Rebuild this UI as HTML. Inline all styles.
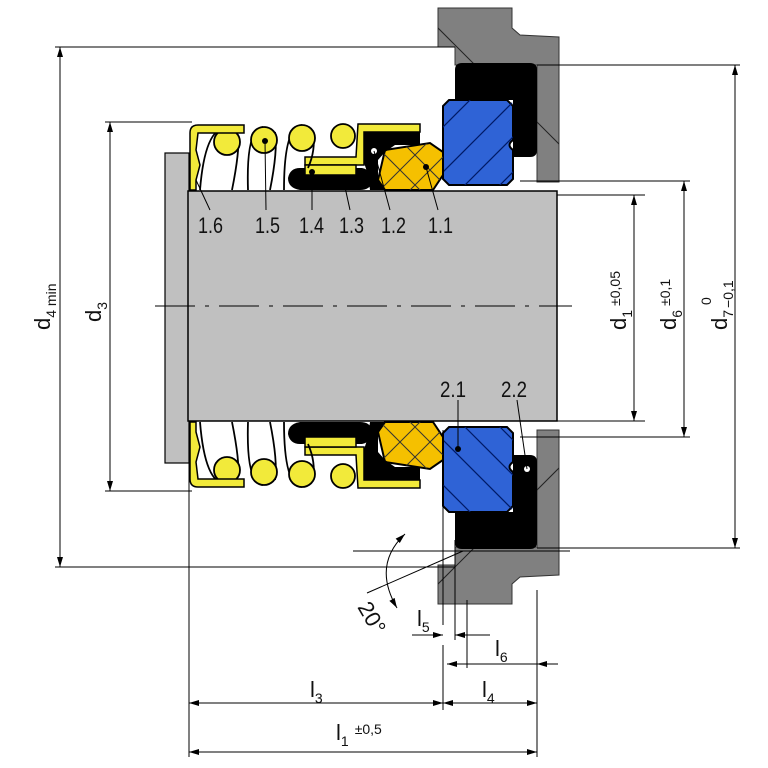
<!DOCTYPE html>
<html><head><meta charset="utf-8"><style>
html,body{margin:0;padding:0;background:#fff}
svg{display:block}
text{font-family:"Liberation Sans Narrow","Liberation Sans",sans-serif;fill:#111}
</style></head><body>
<svg width="768" height="768" viewBox="0 0 768 768" xmlns="http://www.w3.org/2000/svg" xmlns:xlink="http://www.w3.org/1999/xlink">
<defs>
<marker id="a" viewBox="0 0 10 6" refX="10" refY="3" markerWidth="10" markerHeight="6" orient="auto-start-reverse" markerUnits="userSpaceOnUse"><path d="M0,0L10,3L0,6z" fill="#000"/></marker>
<clipPath id="cb"><rect x="443" y="100" width="70" height="85" rx="6"/></clipPath>
<clipPath id="cy"><path d="M385,150 L430,143 L443,152 L443,175 L433,190 L385,190 L378,180 Z"/></clipPath>
<clipPath id="cg"><path d="M438,8 L512,8 L512,28 L520,35 L559,37 L559,182 L537,182 L537,65 L455,65 L455,47 L438,47 Z"/></clipPath>
</defs>
<g id="top">
<path d="M438,8 L512,8 L512,28 L520,35 L559,37 L559,182 L537,182 L537,65 L455,65 L455,47 L438,47 Z" fill="#808080" stroke="#333" stroke-width="1"/>
<g clip-path="url(#cg)" stroke="#222" stroke-width="1"><line x1="430" y1="20" x2="480" y2="70"/><line x1="530" y1="115" x2="570" y2="155"/></g>
<path d="M462,63 L530,63 Q537,63 537,70 L537,150 Q537,157 530,157 L513,157 L513,100 L455,100 L455,70 Q455,63 462,63 Z" fill="#000"/>
<path d="M449,100 L507,100 L513,106 L513,140 Q506,145 513,150 L513,179 L507,185 L449,185 L443,179 L443,106 Z" fill="#2f63d6" stroke="#000" stroke-width="2"/>
<g clip-path="url(#cb)" stroke="#001a66" stroke-width="1.2"><line x1="430" y1="140" x2="480" y2="90"/><line x1="430" y1="185" x2="520" y2="95"/><line x1="455" y1="195" x2="530" y2="120"/><line x1="490" y1="195" x2="540" y2="145"/></g>
<path d="M385,150 L430,143 L443,152 L443,175 L433,190 L385,190 L378,180 Z" fill="#f5c000" stroke="#000" stroke-width="2"/>
<g clip-path="url(#cy)" stroke="#333" stroke-width="1"><line x1="375" y1="145" x2="425" y2="195"/><line x1="400" y1="140" x2="450" y2="190"/><line x1="380" y1="190" x2="430" y2="140"/><line x1="405" y1="195" x2="455" y2="145"/></g>
<path d="M362,131 L420,130 L420,145 L395,145 L385,152 L378,160 L378,180 L385,190 L370,190 L368,175 L360,150 Z" fill="#000"/>
<path d="M300,168 L362,168 Q372,170 372,182 Q370,190 360,190 L300,190 Q288,188 288,178 Q290,168 300,168 Z" fill="#000"/>
<path d="M358,124 L420,124 L420,132 L364,132 L364,165 L305,165 L305,157 L356,157 Z" fill="#f2ea3a" stroke="#000" stroke-width="1.5"/>
<path d="M305,165 L356,165 L356,175 L305,175 Z" fill="#f2ea3a" stroke="#000" stroke-width="1.5"/>
<g fill="none" stroke="#000" stroke-width="1.8">
<path d="M200,190 Q205,128 226,128"/><path d="M232,190 Q240,150 238,135"/>
<path d="M248,190 Q246,128 263,127"/><path d="M270,190 Q278,150 275,132"/>
<path d="M284,190 Q284,126 302,125"/><path d="M308,168 Q316,150 313,132"/>
</g>
<g fill="#f2ea3a" stroke="#000" stroke-width="1.8">
<circle cx="227" cy="142" r="13"/><circle cx="264" cy="140" r="13"/><circle cx="302" cy="138" r="13"/><circle cx="343" cy="136" r="12"/>
</g>
<path d="M190,190 L190,133 Q190,125 198,125 L244,125 L244,133 L198,133 L196,150 L200,165 L196,180 L196,190 Z" fill="#f2ea3a" stroke="#000" stroke-width="1.5"/>
</g>
<use href="#top" xlink:href="#top" transform="matrix(1,0,0,-1,0,612)"/>
<rect x="165" y="153" width="24" height="310" fill="#c0c0c0" stroke="#000" stroke-width="1.2"/>
<rect x="188" y="191" width="369" height="230" fill="#c0c0c0" stroke="#000" stroke-width="1.5"/>
<line x1="155" y1="306" x2="572" y2="306" stroke="#000" stroke-width="1" stroke-dasharray="40,10,4,10"/>
<g fill="#000"><circle cx="265" cy="141" r="3"/><circle cx="312" cy="172" r="3"/><circle cx="426" cy="167" r="3"/><circle cx="458" cy="449" r="3"/></g>
<g fill="#fff"><circle cx="374" cy="151" r="3"/><circle cx="527" cy="469" r="3"/></g>
<g stroke="#000" stroke-width="1">
<line x1="210" y1="210" x2="196" y2="180"/><line x1="266" y1="210" x2="265" y2="141"/><line x1="312" y1="210" x2="312" y2="172"/><line x1="350" y1="210" x2="343" y2="178"/><line x1="390" y1="210" x2="374" y2="151"/><line x1="438" y1="210" x2="426" y2="167"/>
<line x1="458" y1="400" x2="458" y2="449"/><line x1="517" y1="400" x2="527" y2="469"/>
</g>
<g font-size="22">
<text x="198" y="233" textLength="25" lengthAdjust="spacingAndGlyphs">1.6</text><text x="255" y="233" textLength="25" lengthAdjust="spacingAndGlyphs">1.5</text><text x="299" y="233" textLength="25" lengthAdjust="spacingAndGlyphs">1.4</text><text x="339" y="233" textLength="25" lengthAdjust="spacingAndGlyphs">1.3</text><text x="381" y="233" textLength="25" lengthAdjust="spacingAndGlyphs">1.2</text><text x="428" y="233" textLength="25" lengthAdjust="spacingAndGlyphs">1.1</text>
<text x="440" y="397" textLength="26" lengthAdjust="spacingAndGlyphs">2.1</text><text x="501" y="397" textLength="26" lengthAdjust="spacingAndGlyphs">2.2</text>
</g>
<g stroke="#000" stroke-width="1" fill="none">
<line x1="55" y1="47" x2="455" y2="47"/><line x1="55" y1="567" x2="455" y2="567"/>
<line x1="60" y1="47" x2="60" y2="567" marker-start="url(#a)" marker-end="url(#a)"/>
<line x1="105" y1="122" x2="192" y2="122"/><line x1="105" y1="491" x2="192" y2="491"/>
<line x1="110" y1="122" x2="110" y2="491" marker-start="url(#a)" marker-end="url(#a)"/>
<line x1="557" y1="195" x2="645" y2="195"/><line x1="557" y1="421" x2="645" y2="421"/>
<line x1="634" y1="195" x2="634" y2="421" marker-start="url(#a)" marker-end="url(#a)"/>
<line x1="520" y1="181" x2="690" y2="181"/><line x1="520" y1="437" x2="690" y2="437"/>
<line x1="684" y1="181" x2="684" y2="437" marker-start="url(#a)" marker-end="url(#a)"/>
<line x1="537" y1="65" x2="740" y2="65"/><line x1="537" y1="548" x2="740" y2="548"/>
<line x1="735" y1="65" x2="735" y2="548" marker-start="url(#a)" marker-end="url(#a)"/>
<line x1="189" y1="421" x2="189" y2="757"/><line x1="443" y1="430" x2="443" y2="625"/><line x1="443" y1="645" x2="443" y2="710"/>
<line x1="455" y1="540" x2="455" y2="640"/><line x1="467" y1="600" x2="467" y2="668"/><line x1="537" y1="590" x2="537" y2="757"/>
<line x1="189" y1="703" x2="443" y2="703" marker-start="url(#a)" marker-end="url(#a)"/>
<line x1="443" y1="703" x2="537" y2="703" marker-start="url(#a)" marker-end="url(#a)"/>
<line x1="189" y1="752" x2="537" y2="752" marker-start="url(#a)" marker-end="url(#a)"/>
<line x1="412" y1="635" x2="443" y2="635" marker-end="url(#a)"/><line x1="490" y1="635" x2="455" y2="635" marker-end="url(#a)"/>
<line x1="447" y1="664" x2="467" y2="664" marker-start="url(#a)"/><line x1="467" y1="664" x2="537" y2="664"/><line x1="558" y1="664" x2="537" y2="664" marker-end="url(#a)"/>
<line x1="353" y1="551" x2="570" y2="551"/><line x1="367" y1="593" x2="463" y2="551"/>
<path d="M405,534 Q372,565 397,608" marker-start="url(#a)" marker-end="url(#a)"/>
</g>
<g font-size="22">
<text transform="translate(50,330) rotate(-90)">d<tspan font-size="14" dy="6">4 min</tspan></text>
<text transform="translate(101,322) rotate(-90)">d<tspan font-size="14" dy="6">3</tspan></text>
<text transform="translate(626,330) rotate(-90)">d<tspan font-size="14" dy="6">1</tspan><tspan font-size="14" dy="-12" dx="4">±0,05</tspan></text>
<text transform="translate(676,330) rotate(-90)">d<tspan font-size="14" dy="6">6</tspan><tspan font-size="14" dy="-12" dx="4">±0,1</tspan></text>
<text transform="translate(727,330) rotate(-90)">d<tspan font-size="14" dy="6">7</tspan><tspan font-size="14" dx="2">−0,1</tspan></text>
<text transform="translate(711,305) rotate(-90)" font-size="14">0</text>
<text x="310" y="697">l<tspan font-size="14" dy="6">3</tspan></text>
<text x="482" y="697">l<tspan font-size="14" dy="6">4</tspan></text>
<text x="417" y="626">l<tspan font-size="14" dy="6">5</tspan></text>
<text x="495" y="656">l<tspan font-size="14" dy="6">6</tspan></text>
<text x="336" y="740">l<tspan font-size="14" dy="6">1</tspan><tspan font-size="14" dy="-12" dx="6">±0,5</tspan></text>
<text transform="translate(357,607) rotate(60)">20°</text>
</g>
</svg>
</body></html>
